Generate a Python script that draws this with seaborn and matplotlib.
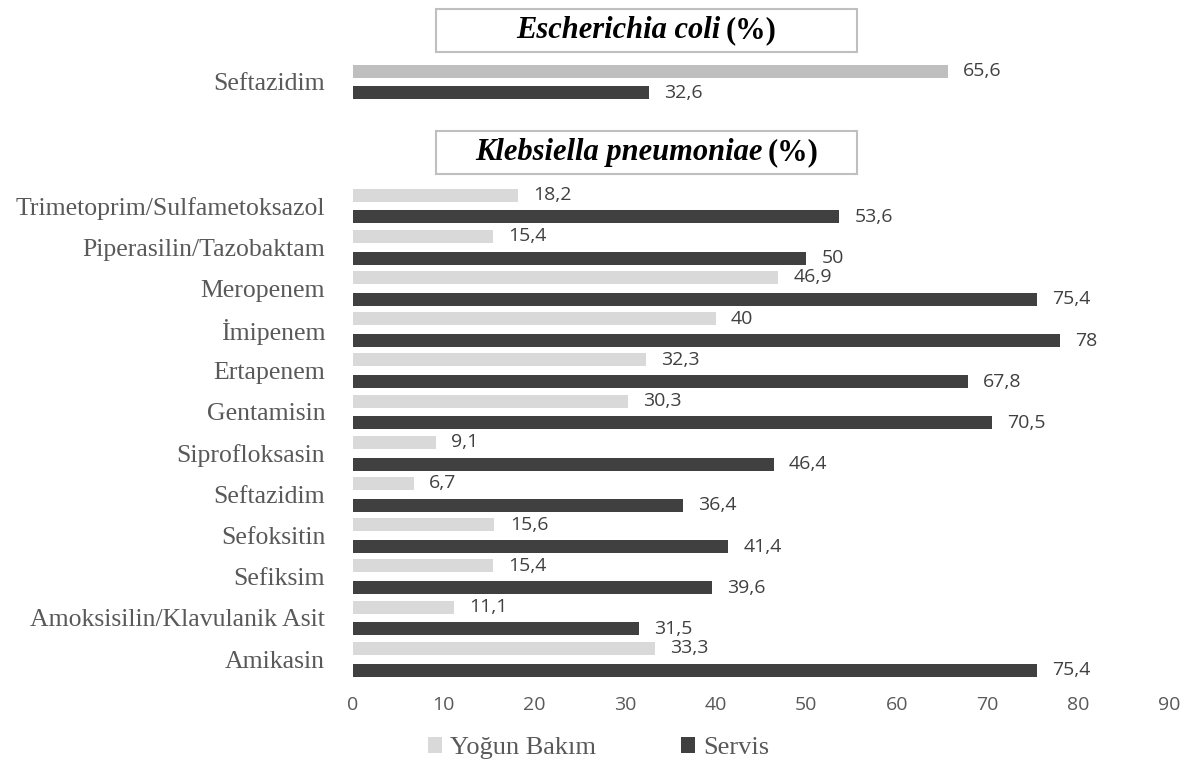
import matplotlib
matplotlib.use("Agg")
import matplotlib.pyplot as plt
import seaborn as sns
import pandas as pd
from matplotlib.patches import Patch, Rectangle

# ---- data ----
groups = ["Yoğun Bakım", "Servis"]
ecoli_categories = ["Seftazidim"]
ecoli_yogun = [65.6]
ecoli_servis = [32.6]

kleb_categories = ["Trimetoprim/Sulfametoksazol", "Piperasilin/Tazobaktam", "Meropenem",
                   "İmipenem", "Ertapenem", "Gentamisin", "Siprofloksasin", "Seftazidim",
                   "Sefoksitin", "Sefiksim", "Amoksisilin/Klavulanik Asit", "Amikasin"]
kleb_yogun = [18.2, 15.4, 46.9, 40, 32.3, 30.3, 9.1, 6.7, 15.6, 15.4, 11.1, 33.3]
kleb_servis = [53.6, 50, 75.4, 78, 67.8, 70.5, 46.4, 36.4, 41.4, 39.6, 31.5, 75.4]

x_ticks = [0, 10, 20, 30, 40, 50, 60, 70, 80, 90]

def long_df(cats, a, b):
    return pd.DataFrame({
        "ilac": list(cats) * 2,
        "grup": [groups[0]] * len(cats) + [groups[1]] * len(cats),
        "deger": list(a) + list(b),
    })

sns.set_theme(style="white")
plt.rcParams["font.family"] = ["DejaVu Sans"]

W, H = 1197, 764
fig = plt.figure(figsize=(W / 100, H / 100), dpi=100)

def px_axes(left, top, right, bottom):
    return fig.add_axes([left / W, 1 - bottom / H, (right - left) / W, (bottom - top) / H])

LIGHT_TOP = "#bfbfbf"
LIGHT = "#d9d9d9"
DARK = "#404040"
LABEL_COLOR = "#595959"
SERIF = ["Liberation Serif", "DejaVu Serif"]
NUMFONT = ["Open Sans", "DejaVu Sans"]
TICKFONT = ["Liberation Sans Narrow", "Open Sans", "DejaVu Sans"]

pitch = 41.2
ax_top = px_axes(353, 82 - pitch / 2, 1169, 82 + pitch / 2)
ax_bot = px_axes(353, 206 - pitch / 2, 1169, 206 + 11 * pitch + pitch / 2)

def draw(ax, cats, a, b, light):
    df = long_df(cats, a, b)
    sns.barplot(data=df, y="ilac", x="deger", hue="grup", hue_order=groups,
                palette=[light, DARK], orient="h", width=1.06, gap=0.4,
                ax=ax, legend=False, edgecolor="none", linewidth=0)
    ax.set_xlim(0, 90)
    ax.set_ylim(len(cats) - 0.5, -0.5)
    for cont, vals in zip(ax.containers, [a, b]):
        ax.bar_label(cont, labels=[f"{v:g}".replace(".", ",") for v in vals],
                     padding=11, color=DARK, fontsize=14, family=NUMFONT)
    ax.set_xlabel("")
    ax.set_ylabel("")
    for s in ax.spines.values():
        s.set_visible(False)
    ax.tick_params(axis="y", length=0, pad=20)
    for t in ax.get_yticklabels():
        t.set_family(SERIF)
        t.set_fontsize(18.5)
        t.set_color(LABEL_COLOR)

draw(ax_top, ecoli_categories, ecoli_yogun, ecoli_servis, LIGHT_TOP)
ax_top.set_xticks([])

draw(ax_bot, kleb_categories, kleb_yogun, kleb_servis, LIGHT)
ax_bot.set_xticks(x_ticks)
ax_bot.set_xticklabels([str(v) for v in x_ticks], family=TICKFONT, fontsize=14, color=LABEL_COLOR)
ax_bot.tick_params(axis="x", length=0, pad=12)

# title boxes
def title_box(top, bottom, italic_text):
    rect = Rectangle((436 / W, 1 - bottom / H), (857 - 436) / W, (bottom - top) / H,
                     transform=fig.transFigure, facecolor="white", edgecolor="#bfbfbf",
                     linewidth=1.5)
    fig.add_artist(rect)
    cy = 1 - (top + bottom) / 2 / H
    t1 = fig.text(0.5, cy, italic_text, family=SERIF, style="italic", weight="bold",
                  fontsize=22, color="black", ha="left", va="center")
    t2 = fig.text(0.5, cy, "(%)", family=SERIF, weight="bold",
                  fontsize=22, color="black", ha="left", va="center")
    fig.canvas.draw()
    r = fig.canvas.get_renderer()
    w1 = t1.get_window_extent(r).width
    w2 = t2.get_window_extent(r).width
    sp = 5
    total = w1 + sp + w2
    cx = (436 + 857) / 2
    start = cx - total / 2
    t1.set_position((start / W, cy))
    t2.set_position(((start + w1 + sp) / W, cy))

title_box(9, 52, "Escherichia coli")
title_box(131, 174, "Klebsiella pneumoniae")

handles = [Patch(facecolor=LIGHT, edgecolor="none"), Patch(facecolor=DARK, edgecolor="none")]
fig.legend(handles, groups, loc="center", bbox_to_anchor=(0.5, 1 - 748 / H), ncol=2,
           frameon=False, prop={"family": SERIF, "size": 19}, labelcolor=LABEL_COLOR,
           handlelength=0.55, handleheight=0.55, handletextpad=0.3, columnspacing=3.2)

fig.savefig("out.png", dpi=100)
